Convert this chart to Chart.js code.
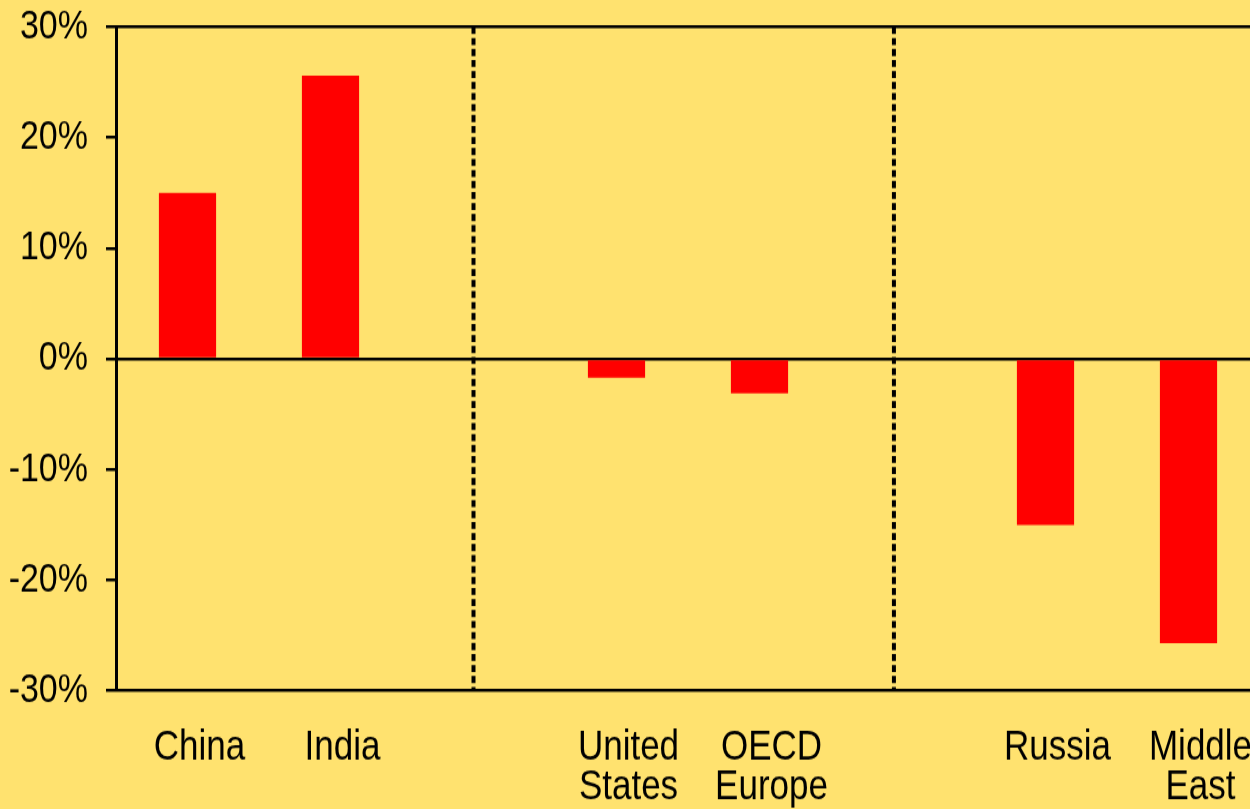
<!DOCTYPE html>
<html>
<head>
<meta charset="utf-8">
<script src="https://cdn.jsdelivr.net/npm/chart.js@4"></script>
<style>
  html { margin: 0; padding: 0; background: #FFE26F; overflow: hidden; }
  body { margin: 0; padding: 0; width: 1250px; height: 809px; overflow: hidden; }
  /* the chart is drawn squat and stretched back up, which gives the tall narrow lettering */
  #wrap { transform: scaleY(1.2); transform-origin: 0 0; }
  #chart { display: block; }
</style>
</head>
<body>
<div id="wrap"><canvas id="chart" width="1270" height="674"></canvas></div>
<script>
// regions, with empty slots between the three groups
var regiones = ['China', 'India', '', ['United', 'States'], ['OECD', 'Europe'], '', 'Russia', ['Middle', 'East']];
// change, in percent
var cambios = [15, 25.6, null, -1.7, -3.1, null, -15, -25.7];
var ticksY = [30, 20, 10, 0, -10, -20, -30];
var lineasY = [30, 0, -30];
// dashed separators, in category index units
var separadores = [2, 4.94];

var fuente = "'Liberation Sans', Arial, sans-serif";
var k = 1.2; // vertical stretch applied by CSS

var separadoresPlugin = {
    id: 'separadores',
    afterDatasetsDraw: function(chart) {
        var ctx = chart.ctx;
        var area = chart.chartArea;
        var x = chart.scales.x;
        ctx.save();
        ctx.strokeStyle = '#000';
        ctx.lineWidth = 4;
        ctx.setLineDash([7 / k, 4 / k]);
        separadores.forEach(function(s) {
            var px = x.getPixelForValue(s);
            ctx.beginPath();
            ctx.moveTo(px, area.top);
            ctx.lineTo(px, area.bottom);
            ctx.stroke();
        });
        ctx.restore();
    }
};

new Chart(document.getElementById('chart').getContext('2d'), {
    type: 'bar',
    data: {
        labels: regiones,
        datasets: [{
            data: cambios,
            backgroundColor: '#FF0000',
            borderWidth: 0,
            barPercentage: 0.4,
            categoryPercentage: 1
        }]
    },
    options: {
        responsive: false,
        animation: false,
        layout: { padding: { top: 27 / k, right: 10, left: 0, bottom: 0 } },
        plugins: {
            legend: { display: false },
            tooltip: { enabled: false }
        },
        scales: {
            x: {
                grid: { display: false, drawTicks: false },
                border: { display: false },
                ticks: {
                    color: '#000',
                    font: { family: fuente, size: 35, lineHeight: 0.95 },
                    padding: 31,
                    labelOffset: 12,
                    maxRotation: 0,
                    autoSkip: false
                },
                afterFit: function(s) {
                    s.height = (809 - 691) / k;
                    s.paddingLeft = 0;
                    s.paddingRight = 0;
                }
            },
            y: {
                min: -30,
                max: 30,
                z: 1,
                afterBuildTicks: function(s) {
                    s.ticks = ticksY.map(function(v) { return { value: v }; });
                },
                afterFit: function(s) {
                    s.width = 116;
                    s.paddingTop = 0;
                    s.paddingBottom = 0;
                },
                border: { display: true, color: '#000', width: 3 },
                grid: {
                    color: function(c) {
                        return lineasY.indexOf(c.tick.value) >= 0 ? '#000' : 'rgba(0,0,0,0)';
                    },
                    lineWidth: 3 / k,
                    tickColor: '#000',
                    tickLength: 10
                },
                ticks: {
                    color: '#000',
                    font: { family: fuente, size: 34 },
                    padding: 18,
                    callback: function(v) { return v + '%'; }
                }
            }
        }
    },
    plugins: [separadoresPlugin]
});
</script>
</body>
</html>
